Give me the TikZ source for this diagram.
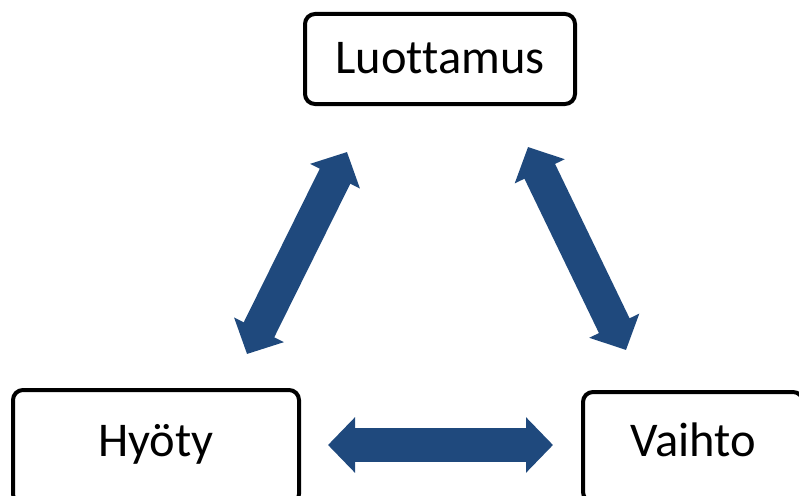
\documentclass[tikz,border=0pt]{standalone}
\usepackage{fontspec}
\setmainfont[Ligatures=NoCommon]{Carlito}
\usetikzlibrary{arrows.meta}
\definecolor{arrowblue}{HTML}{1F497D}
\tikzset{
  conceptbox/.style={draw=black, line width=4pt, rounded corners=10pt, fill=white,
    inner sep=0pt, text depth=0pt, text height=18pt,
    font=\fontsize{48.5}{58}\selectfont},
  dblarrow/.style={draw=arrowblue, line width=34pt, line cap=butt,
    {Triangle[length=27pt,width=54pt]}-{Triangle[length=27pt,width=54pt]}}
}
\begin{document}
\begin{tikzpicture}[x=1pt,y=-1pt]
\useasboundingbox (0,0) rectangle (799,495);
\clip (0,0) rectangle (799,495);
\node[conceptbox, minimum width=270pt, minimum height=90pt, text height=30pt] (luo) at (440,59) {Luottamus};
\node[conceptbox, minimum width=286pt, minimum height=114pt] (hyo) at (156,447) {Hyöty};
\node[conceptbox, minimum width=220pt, minimum height=110pt] (vai) at (693,447) {Vaihto};
\coordinate (l1) at (247,354);
\coordinate (l2) at (347,152);
\coordinate (r1) at (528,147);
\coordinate (r2) at (626,350);
\coordinate (b1) at (328,445);
\coordinate (b2) at (553,445);
\draw[dblarrow] (l1) -- (l2);
\draw[dblarrow] (r1) -- (r2);
\draw[dblarrow] (b1) -- (b2);
\end{tikzpicture}
\end{document}
